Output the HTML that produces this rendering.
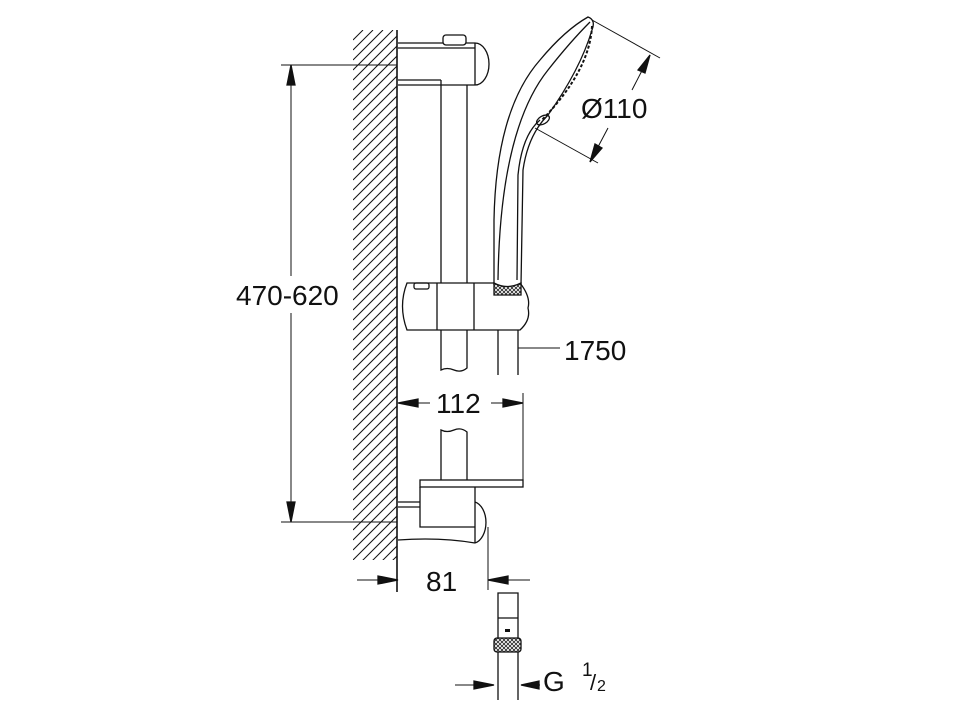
<!DOCTYPE html>
<html><head><meta charset="utf-8"><style>
html,body{margin:0;padding:0;background:#fff}
svg{display:block}
text{font-family:"Liberation Sans",sans-serif;fill:#111}
</style></head><body>
<svg width="959" height="719" viewBox="0 0 959 719" xmlns="http://www.w3.org/2000/svg">
<defs>
<pattern id="hp" width="10" height="10" patternUnits="userSpaceOnUse">
<path d="M-1,11 L11,-1 M-6,6 L6,-6 M4,16 L16,4" stroke="#222" stroke-width="1"/>
</pattern>
<clipPath id="wc"><rect x="353" y="30" width="44" height="530"/></clipPath>
<pattern id="kn" width="4" height="4" patternUnits="userSpaceOnUse">
<path d="M0,4 L4,0 M0,0 L4,4" stroke="#222" stroke-width="0.8"/>
</pattern>
</defs>
<g fill="none" stroke="#111" stroke-width="1.3">
<!-- wall -->
<g clip-path="url(#wc)" stroke-width="1">
<path d="M353,40 L363,30 M353,50 L373,30 M353,60 L383,30 M353,70 L393,30 M353,80 L403,30 M353,90 L413,30 M353,100 L413,40 M353,110 L413,50 M353,120 L413,60 M353,130 L413,70 M353,140 L413,80 M353,150 L413,90 M353,160 L413,100 M353,170 L413,110 M353,180 L413,120 M353,190 L413,130 M353,200 L413,140 M353,210 L413,150 M353,220 L413,160 M353,230 L413,170 M353,240 L413,180 M353,250 L413,190 M353,260 L413,200 M353,270 L413,210 M353,280 L413,220 M353,290 L413,230 M353,300 L413,240 M353,310 L413,250 M353,320 L413,260 M353,330 L413,270 M353,340 L413,280 M353,350 L413,290 M353,360 L413,300 M353,370 L413,310 M353,380 L413,320 M353,390 L413,330 M353,400 L413,340 M353,410 L413,350 M353,420 L413,360 M353,430 L413,370 M353,440 L413,380 M353,450 L413,390 M353,460 L413,400 M353,470 L413,410 M353,480 L413,420 M353,490 L413,430 M353,500 L413,440 M353,510 L413,450 M353,520 L413,460 M353,530 L413,470 M353,540 L413,480 M353,550 L413,490 M353,560 L413,500 M353,570 L413,510 M353,580 L413,520 M353,590 L413,530 M353,600 L413,540 M353,610 L413,550"/>
</g>
<line x1="397" y1="30" x2="397" y2="592" stroke-width="1.6"/>
<!-- 470-620 dim -->
<line x1="281" y1="65" x2="397" y2="65" stroke-width="1"/>
<line x1="281" y1="522" x2="397" y2="522" stroke-width="1"/>
<line x1="291" y1="65" x2="291" y2="276" stroke-width="1"/>
<line x1="291" y1="313" x2="291" y2="522" stroke-width="1"/>
<path d="M291,65 L287,85 L295,85Z M291,522 L287,502 L295,502Z" fill="#111"/>
<!-- top bracket -->
<path d="M398,43 L475,43 A14,21 0 0 1 475,85 L398,85" fill="#fff"/>
<line x1="398" y1="48" x2="475" y2="48"/>
<line x1="398" y1="80" x2="441" y2="80"/>
<line x1="475" y1="43" x2="475" y2="85"/>
<rect x="443" y="35" width="23" height="10" rx="3" fill="#fff"/>
<!-- rail -->
<line x1="441" y1="80" x2="441" y2="283"/>
<line x1="467" y1="85" x2="467" y2="283"/>
<path d="M441,330 L441,370 Q447,367 454,370 T467,368 L467,330"/>
<!-- slider -->
<path d="M407,283 L520,283 Q531,297 528,308 Q531,320 520,330 L407,330 Q398,306 407,283Z" fill="#fff"/>
<line x1="437" y1="283" x2="437" y2="330"/>
<line x1="474" y1="283" x2="474" y2="330"/>
<rect x="414" y="283" width="15" height="6" rx="2"/>
<!-- hose -->
<path d="M498,330 L498,375 M518,330 L518,375"/>
<line x1="518" y1="348" x2="560" y2="348" stroke-width="1"/>
<!-- handshower -->
<path d="M494,285 L494,220 Q496,110 540,60 Q565,30 588,17 Q596,20 592,30 Q580,70 548,115 Q528,135 523,170 L521,285" fill="#fff"/>
<path d="M498,280 Q500,130 548,70 Q570,42 590,22"/>
<path d="M517,280 L518,175 Q522,135 540,120"/>
<path d="M494,283 Q507,290 521,283 L521,295 L494,295Z" fill="url(#kn)"/>
<path d="M592,26 Q590,70 542,120" stroke-dasharray="3,2" stroke-width="2"/>
<ellipse cx="543" cy="120" rx="7" ry="4" transform="rotate(-30 543 120)"/>
<!-- Ø110 dim -->
<line x1="592" y1="20" x2="660" y2="58" stroke-width="1"/>
<line x1="535" y1="128" x2="598" y2="163" stroke-width="1"/>
<line x1="650" y1="55" x2="632" y2="90" stroke-width="1"/>
<line x1="608" y1="128" x2="590" y2="162" stroke-width="1"/>
<path d="M650,55 L638,70 L645,73Z M590,162 L595,144 L602,148Z" fill="#111"/>
<!-- 112 dim -->
<line x1="398" y1="403" x2="430" y2="403" stroke-width="1"/>
<line x1="491" y1="403" x2="523" y2="403" stroke-width="1"/>
<path d="M398,403 L418,399 L418,407Z M523,403 L503,399 L503,407Z" fill="#111"/>
<line x1="523" y1="393" x2="523" y2="480" stroke-width="1"/>
<!-- lower rail piece -->
<path d="M441,480 L441,430 Q447,433 454,430 T467,432 L467,480"/>
<!-- lower bracket -->
<path d="M398,502 L420,502 M398,507 L420,507 M398,540 Q440,537 475,543"/>
<path d="M475,502 A14,21 0 0 1 475,543" fill="#fff"/>
<rect x="420" y="480" width="103" height="7" fill="#fff"/>
<path d="M420,487 L420,527 L475,527 M475,487 L475,543"/>
<!-- 81 dim -->
<line x1="357" y1="580" x2="398" y2="580" stroke-width="1"/>
<path d="M398,580 L378,576 L378,584Z" fill="#111"/>
<line x1="488" y1="527" x2="488" y2="590" stroke-width="1"/>
<line x1="488" y1="580" x2="530" y2="580" stroke-width="1"/>
<path d="M488,580 L508,576 L508,584Z" fill="#111"/>
<!-- fitting -->
<path d="M498,593 L518,593 L518,618 L498,618Z M498,618 L498,638 M518,618 L518,638"/>
<rect x="505" y="629" width="5" height="3" fill="#111" stroke="none"/>
<rect x="494" y="638" width="27" height="14" rx="3" fill="url(#kn)"/>
<path d="M498,652 L498,700 M518,652 L518,700"/>
<!-- G1/2 dim -->
<line x1="455" y1="685" x2="494" y2="685" stroke-width="1"/>
<path d="M494,685 L474,681 L474,689Z" fill="#111"/>
<line x1="521" y1="685" x2="540" y2="685" stroke-width="1"/>
<path d="M521,685 L539,681 L539,689Z" fill="#111"/>
</g>
<text x="236" y="305" font-size="28">470-620</text>
<text x="564" y="360" font-size="28">1750</text>
<text x="581" y="118" font-size="28">Ø110</text>
<text x="436" y="413" font-size="28">112</text>
<text x="426" y="591" font-size="28">81</text>
<text x="543" y="691" font-size="28">G</text>
<text x="582" y="676" font-size="19">1</text>
<text x="590" y="690" font-size="22">/</text>
<text x="597" y="691" font-size="16">2</text>
</svg>
</body></html>
